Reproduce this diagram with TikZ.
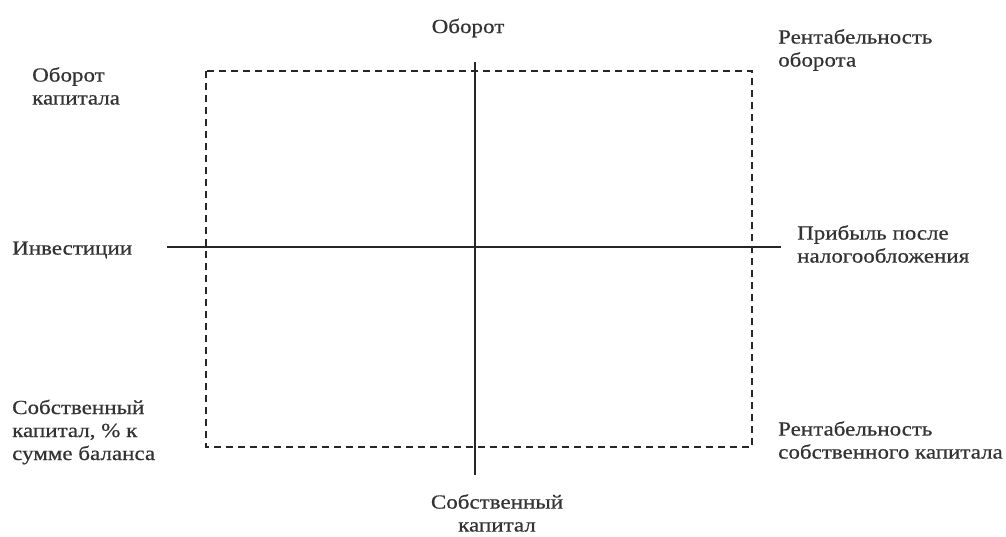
\documentclass[tikz,border=0pt]{standalone}
\usepackage{fontspec}
\setmainfont[FakeStretch=1.15,FakeBold=0.6]{Liberation Serif}
\begin{document}
\begin{tikzpicture}[x=1pt,y=-1pt,
  lbl/.style={inner sep=0pt, font=\fontsize{20}{23}\selectfont, text=black!80, align=left, anchor=west},
  axis/.style={line width=1.3pt, black!85},
  frame/.style={line width=1.1pt, black!85, dash pattern=on 7pt off 5pt}]
\useasboundingbox (0,0) rectangle (1006,536);
\draw[frame] (206,71) rectangle (752,447);
\coordinate (vtop) at (475,62);
\coordinate (vbot) at (475,475);
\coordinate (hl) at (167,247);
\coordinate (hr) at (781,247);
\draw[axis] (vtop) -- (vbot);
\draw[axis] (hl) -- (hr);
\node[lbl, anchor=center] (ob) at (468,28) {Оборот};
\node[lbl] (obk) at (32,86) {Оборот\\капитала};
\node[lbl] (ro) at (778,50) {Рентабельность\\оборота};
\node[lbl] (inv) at (12,250) {Инвестиции};
\node[lbl] (pr) at (797,244) {Прибыль после\\налогообложения};
\node[lbl] (sk) at (12,432) {Собственный\\капитал, \% к\\сумме баланса};
\node[lbl] (rsk) at (778,440) {Рентабельность\\собственного капитала};
\node[lbl, anchor=center, align=center] (skb) at (497,513) {Собственный\\капитал};
\end{tikzpicture}
\end{document}
